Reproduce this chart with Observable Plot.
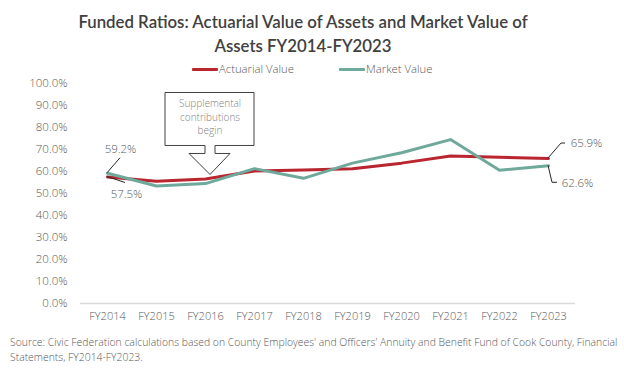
<!DOCTYPE html>
<html>
<head>
<meta charset="utf-8">
<script src="https://cdn.jsdelivr.net/npm/d3@7"></script>
<script src="https://cdn.jsdelivr.net/npm/@observablehq/plot@0.6"></script>
<style>
  html, body { margin: 0; padding: 0; background: #fff; }
  body { width: 624px; height: 374px; position: relative; overflow: hidden; font-family: "Open Sans", sans-serif; }
  #title { position: absolute; top: 10px; left: 0; width: 606px; text-align: center; font-family: Lato, sans-serif; font-size: 16.8px; font-weight: 600; line-height: 24px; color: #404040; z-index: 2; }
  #legend { position: absolute; left: 0; top: 0; z-index: 3; }
  .sw { position: absolute; height: 3px; border-radius: 1px; }
  .lg { position: absolute; font-size: 11.3px; font-weight: 300; line-height: 14px; color: #595959; white-space: nowrap; }
  #chart { position: absolute; left: 0; top: 70px; z-index: 1; }
  #caption { position: absolute; left: 10px; top: 335px; width: 612px; font-size: 10.4px; font-weight: 300; line-height: 15px; color: #595959; }
</style>
</head>
<body>
<div id="title">Funded Ratios: Actuarial Value of Assets and Market Value of<br>Assets FY2014-FY2023</div>
<div id="legend"></div>
<div id="chart"></div>
<div id="caption">Source: Civic Federation calculations based on County Employees' and Officers' Annuity and Benefit Fund of Cook County, Financial Statements, FY2014-FY2023.</div>
<script>
// ---- data ----
const years = ["FY2014","FY2015","FY2016","FY2017","FY2018","FY2019","FY2020","FY2021","FY2022","FY2023"];
const seriesNames = ["Actuarial Value", "Market Value"];
const actuarial = [57.5, 55.6, 56.6, 60.2, 60.7, 61.2, 63.8, 67.0, 66.5, 65.9];
const market    = [59.2, 53.4, 54.5, 61.3, 56.9, 63.8, 68.5, 74.5, 60.6, 62.6];
const yTicks = [0, 10, 20, 30, 40, 50, 60, 70, 80, 90, 100];
const seriesColors = ["#B9262F", "#6FA99B"];
const calloutText = "Supplemental\ncontributions\nbegin";

const data = years.flatMap((yr, i) => [
  {year: yr, series: seriesNames[0], value: actuarial[i]},
  {year: yr, series: seriesNames[1], value: market[i]}
]);

// legend
const legend = document.getElementById("legend");
[[192, 219], [339, 366]].forEach(([sx, tx], i) => {
  const s = document.createElement("div");
  s.className = "sw"; s.style.left = sx + "px"; s.style.top = "67.5px"; s.style.width = "26px";
  s.style.background = seriesColors[i];
  legend.appendChild(s);
  const t = document.createElement("div");
  t.className = "lg"; t.style.left = tx + "px"; t.style.top = "62px";
  t.textContent = seriesNames[i];
  legend.appendChild(t);
});

// end-point labels
const endLabels = [
  {s: 1, i: 0, dx: 13, dy: -24, leader: [[0,0],[13,-15]]},
  {s: 0, i: 0, dx: 19, dy: 17, leader: [[0,0],[18,6]]},
  {s: 0, i: 9, dx: 38, dy: -15, leader: [[0,0],[13,-15],[17,-15]]},
  {s: 1, i: 9, dx: 29, dy: 18, leader: [[0,0],[4,17],[9,17]]}
];
const val = (s, i) => (s === 0 ? actuarial : market)[i];

function leaders(index, scales) {
  const g = d3.create("svg:g").attr("fill", "none").attr("stroke", "#262626").attr("stroke-width", 1);
  endLabels.forEach(L => {
    const px = scales.x(years[L.i]), py = scales.y(val(L.s, L.i));
    g.append("path").attr("d", "M" + L.leader.map(([a, b]) => (px + a) + "," + (py + b)).join("L"));
  });
  return g.node();
}

function callout(index, scales) {
  const tx = scales.x(years[2]) + 5, ty = scales.y(actuarial[2]) - 4;
  const shape = [[-45,-82],[44,-82],[44,-29],[5,-29],[5,-21],[20,-21],[0,0],[-21,-21],[-5,-21],[-5,-29],[-45,-29]];
  const g = d3.create("svg:g");
  g.append("path")
    .attr("d", "M" + shape.map(([a, b]) => (tx + a) + "," + (ty + b)).join("L") + "Z")
    .attr("fill", "#fff").attr("stroke", "#404040").attr("stroke-width", 1);
  calloutText.split("\n").forEach((ln, k) => {
    g.append("text").attr("x", tx).attr("y", ty - 70 + k * 13.5)
      .attr("text-anchor", "middle").attr("dominant-baseline", "middle")
      .attr("font-size", 10).attr("font-weight", 300).attr("fill", "#7f7f7f").text(ln);
  });
  return g.node();
}

const fmt = d => d.toFixed(1) + "%";
const chart = Plot.plot({
  width: 624,
  height: 260,
  marginTop: 13,
  marginBottom: 27,
  marginLeft: 80,
  marginRight: 49,
  style: {fontFamily: "'Open Sans', sans-serif", fontSize: "11px", fontWeight: 300, color: "#595959", background: "transparent", overflow: "visible"},
  x: {type: "point", domain: years, padding: 0.5, label: null, tickSize: 0, tickPadding: 9},
  y: {domain: [0, 100], label: null},
  color: {domain: seriesNames, range: seriesColors},
  marks: [
    Plot.axisY({ticks: yTicks, tickFormat: fmt, tickSize: 0, tickPadding: 13, label: null, fontSize: 11.5}),
    Plot.ruleY([0], {stroke: "#d9d9d9", strokeWidth: 1.5}),
    Plot.line(data, {x: "year", y: "value", z: "series", stroke: "series", strokeWidth: 3}),
    callout,
    leaders,
    ...endLabels.map(L => Plot.text([{year: years[L.i], value: val(L.s, L.i)}], {
      x: "year", y: "value", text: d => fmt(d.value),
      dx: L.dx, dy: L.dy, fontSize: 11.5, fill: "#595959", textAnchor: "middle"
    }))
  ]
});
document.getElementById("chart").appendChild(chart);
</script>
</body>
</html>
